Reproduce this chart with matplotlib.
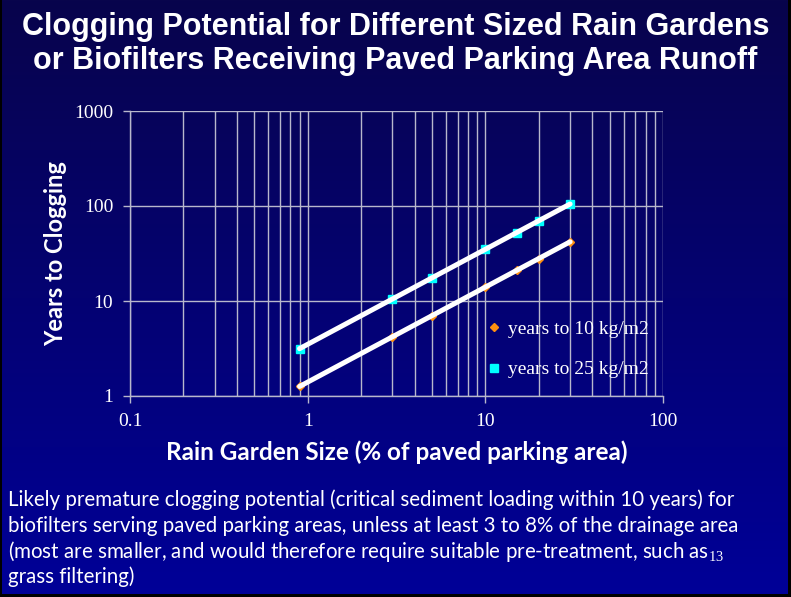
import numpy as np
import matplotlib.pyplot as plt
from matplotlib.patches import Rectangle
from matplotlib.ticker import FixedLocator, NullFormatter, LogLocator

# rain garden size, % of paved parking area
size_pct = [0.9, 3, 5, 10, 15, 20, 30]
# years until critical loading is reached
years_10kg = [1.26, 4.2, 7, 14, 21, 28, 42]
years_25kg = [3.15, 10.5, 17.5, 35, 52.5, 70, 105]

x_ticks = [0.1, 1, 10, 100]
y_ticks = [1, 10, 100, 1000]
x_tick_labels = ["0.1", "1", "10", "100"]
y_tick_labels = ["1", "10", "100", "1000"]

note_lines = [
    "Likely premature clogging potential (critical sediment loading within 10 years) for",
    "biofilters serving paved parking areas, unless at least 3 to 8% of the drainage area",
    "(most are smaller, and would therefore require suitable pre-treatment, such as$_{13}$",
    "grass filtering)",
]

plt.rcParams['mathtext.fontset'] = 'custom'
plt.rcParams['mathtext.rm'] = 'Liberation Serif'
plt.rcParams['mathtext.it'] = 'Liberation Serif'

W, H = 791, 597
fig = plt.figure(figsize=(W / 100, H / 100), dpi=100)

# slide background: dark navy fading to blue
bg = fig.add_axes([0, 0, 1, 1], zorder=-10)
top = np.array([8, 4, 76]) / 255
bottom = np.array([0, 0, 152]) / 255
t = np.linspace(0, 1, 256)[:, None, None]
grad = top * (1 - t) + bottom * t
grad = np.repeat(grad, 2, axis=1)
bg.imshow(grad, aspect='auto', extent=[0, W, H, 0])
bg.set_xlim(0, W)
bg.set_ylim(H, 0)
bg.axis('off')
# thin dark edges
bg.add_patch(Rectangle((0, 0), 2, H, color='black', lw=0))
bg.add_patch(Rectangle((W - 3, 0), 3, H, color='black', lw=0))
bg.add_patch(Rectangle((0, H - 3), W, 3, color='black', lw=0))

fig.text(0.5, 1 - 27 / H, "Clogging Potential for Different Sized Rain Gardens",
         ha='center', va='center', color='white', fontsize=22, fontweight='bold',
         family='Liberation Sans')
fig.text(0.5, 1 - 61 / H, "or Biofilters Receiving Paved Parking Area Runoff",
         ha='center', va='center', color='white', fontsize=22, fontweight='bold',
         family='Liberation Sans')

ax = fig.add_axes([130 / W, 1 - 396 / H, (663 - 130) / W, (396 - 111) / H])
ax.patch.set_alpha(0)
ax.set_xscale('log')
ax.set_yscale('log')
ax.set_xlim(0.1, 100)
ax.set_ylim(1, 1000)

grid_col = '#b8b8cc'
ax.xaxis.set_major_locator(FixedLocator(x_ticks))
ax.yaxis.set_major_locator(FixedLocator(y_ticks))
ax.set_xticklabels(x_tick_labels)
ax.set_yticklabels(y_tick_labels)
ax.xaxis.set_minor_locator(LogLocator(base=10, subs=np.arange(2, 10)))
ax.xaxis.set_minor_formatter(NullFormatter())
ax.yaxis.set_minor_locator(FixedLocator([]))
ax.grid(True, which='major', color=grid_col, lw=1.0)
ax.grid(True, which='minor', axis='x', color=grid_col, lw=1.0)
ax.tick_params(axis='both', which='major', direction='out', length=5, width=1,
               color=grid_col, labelcolor='white', labelsize=14)
ax.tick_params(axis='x', which='major', pad=7)
ax.tick_params(axis='y', which='major', pad=7)
ax.tick_params(axis='x', which='minor', length=0)
for lab in ax.get_xticklabels() + ax.get_yticklabels():
    lab.set_family('Liberation Serif')
for side in ['top', 'right']:
    ax.spines[side].set_visible(False)
for side in ['left', 'bottom']:
    ax.spines[side].set_color(grid_col)
    ax.spines[side].set_linewidth(1.0)

ax.plot(size_pct, years_10kg, ls='none', marker='D', ms=4.5, color='#ff9010',
        label='years to 10 kg/m2', zorder=3)
ax.plot(size_pct, years_25kg, ls='none', marker='s', ms=6, color='#00ffff',
        label='years to 25 kg/m2', zorder=3)
ax.plot(size_pct, years_10kg, color='white', lw=3.6, solid_capstyle='round', zorder=4)
ax.plot(size_pct, years_25kg, color='white', lw=3.6, solid_capstyle='round', zorder=4)

leg = ax.legend(loc='lower left', bbox_to_anchor=(0.64, 0.0), frameon=False,
                labelcolor='white', prop={'family': 'Liberation Serif', 'size': 14},
                handlelength=0.6, handletextpad=0.4, labelspacing=1.2)

ax.set_xlabel("Rain Garden Size (% of paved parking area)", color='white',
              fontsize=17.5, fontweight='bold', family='Lato', labelpad=8)
ax.set_ylabel("Years to Clogging", color='white', fontsize=17, fontweight='bold',
              family='Lato', labelpad=5)

for i, line in enumerate(note_lines):
    fig.text(8 / W, 1 - (500 + i * 25.5) / H, line, ha='left', va='center',
             color='white', fontsize=14.8, family='Lato')

fig.savefig('out.png', dpi=100)
